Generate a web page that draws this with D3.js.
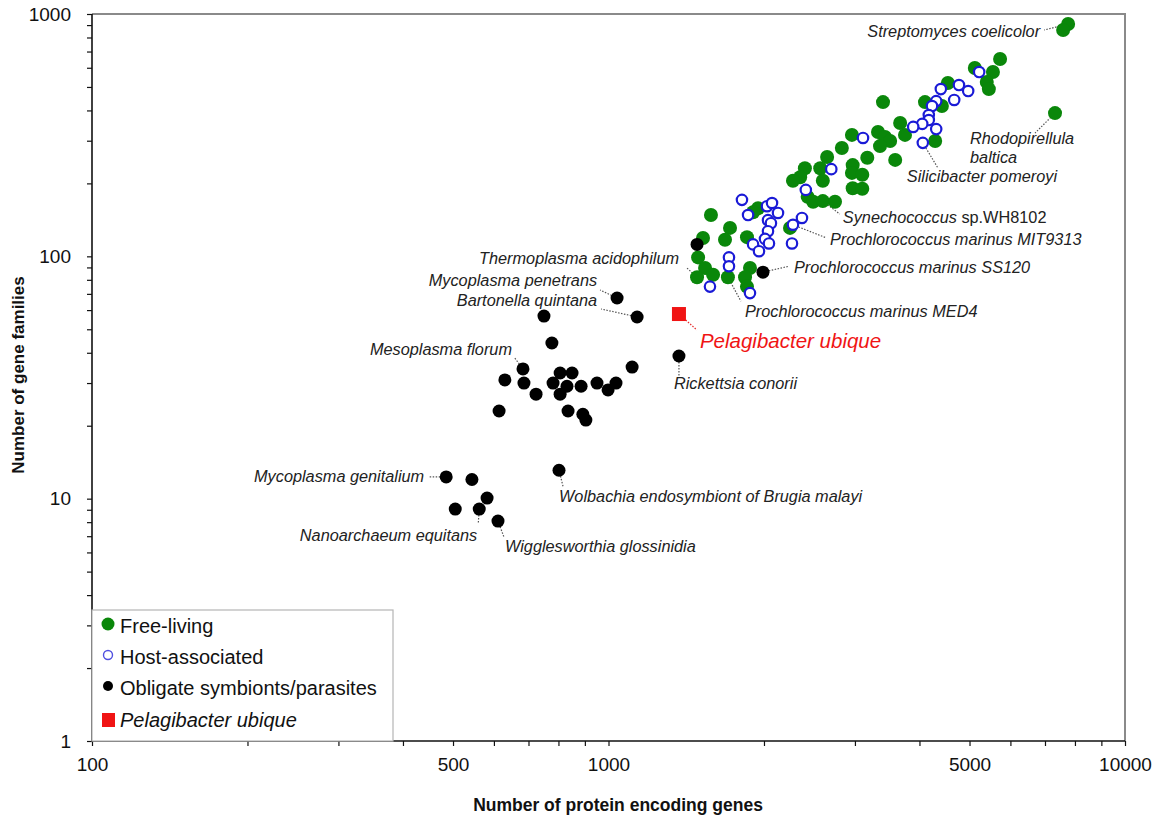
<!doctype html>
<meta charset="utf-8" />
<script src="https://cdn.jsdelivr.net/npm/d3@7/dist/d3.min.js"></script>
<style>
    body {
        margin: 0;
        background: white;
    }

    text {
        font-family: "Liberation Sans", Arial, sans-serif;
    }

    svg {
        display: block
    }
</style>
<svg id="chart"></svg>
<script>
    // [protein encoding genes, gene families]
    var freeLiving = [
        [7760, 909], [7590, 859], [5730, 652], [5550, 576], [5120, 599], [5400, 524], [5450, 490],
        [7320, 390], [4540, 519], [4100, 433], [4420, 417], [3670, 355], [3750, 317], [4290, 299],
        [3400, 433], [3325, 326], [3430, 311], [3510, 299], [3355, 285], [2960, 317], [2830, 280],
        [3170, 255], [3590, 250], [2650, 257], [2570, 231], [2400, 231], [2350, 212], [2600, 205],
        [2970, 238], [2960, 221], [3100, 217], [2970, 191], [3100, 190], [2430, 176], [2490, 168],
        [2600, 169], [2745, 168], [2276, 205], [2246, 131], [1948, 158], [1905, 152], [1579, 148],
        [1719, 131], [1681, 117], [1524, 119], [1854, 120], [1491, 99], [1538, 89.5], [1484, 82],
        [1594, 84], [1703, 82], [1879, 89.5], [1838, 82], [1854, 75]
    ];

    var hostAssociated = [
        [5220, 576], [4770, 509], [4970, 481], [4670, 442], [4400, 490], [4310, 437], [4230, 417],
        [4170, 383], [4170, 365], [4050, 352], [3890, 342], [4310, 335], [4060, 294], [3110, 308],
        [2700, 229], [2410, 188], [1813, 171], [1863, 148], [2027, 161], [2073, 166], [2129, 151],
        [2036, 141], [2063, 137], [2036, 127], [2009, 118], [2045, 113], [1905, 112], [1956, 105],
        [2276, 135], [2369, 144], [2266, 113], [1711, 99], [1711, 91], [1572, 75], [1879, 70.5]
    ];

    var obligate = [
        [1484, 112], [1991, 86], [1039, 67.3], [1136, 56.2], [750, 56.7], [777, 43.9], [683, 34.3],
        [630, 30.9], [686, 30.0], [724, 27.0], [806, 33.0], [850, 33.0], [781, 30.0], [831, 29.1],
        [806, 27.0], [885, 29.1], [950, 30.0], [998, 28.1], [1034, 30.0], [1111, 34.9], [614, 23.0],
        [835, 23.0], [892, 22.3], [904, 21.1], [1369, 38.8], [485, 12.3], [544, 12.0], [582, 10.06],
        [505, 9.06], [562, 9.06], [611, 8.08], [802, 13.1]
    ];

    var pelagibacter = [[1369, 57.8]];

    var xTicks = [100, 200, 300, 400, 500, 600, 700, 800, 900,
        1000, 2000, 3000, 4000, 5000, 6000, 7000, 8000, 9000, 10000];
    var xLabels = [100, 500, 1000, 5000, 10000];
    var yTicks = [1, 2, 3, 4, 5, 6, 7, 8, 9, 10, 20, 30, 40, 50, 60, 70, 80, 90,
        100, 200, 300, 400, 500, 600, 700, 800, 900, 1000];
    var yLabels = [1, 10, 100, 1000];

    // label: [text parts], point, text offset, anchor, leader end offset
    var notes = [
        { t: [['Streptomyces coelicolor', 1]], p: [7760, 909], dx: -28, dy: 13, a: 'end', lx: -24, ly: 6 },
        { t: [['Rhodopirellula', 1]], t2: 'baltica', p: [7320, 390], dx: -85, dy: 31, a: 'start', lx: -20, ly: 20 },
        { t: [['Silicibacter pomeroyi', 1]], p: [4060, 294], dx: -16, dy: 39, a: 'start', lx: 15, ly: 25 },
        { t: [['Synechococcus', 1], [' sp.WH8102', 0]], p: [2600, 169], dx: 20, dy: 22, a: 'start', lx: 17, ly: 13 },
        { t: [['Prochlorococcus marinus MIT9313', 1]], p: [2276, 135], dx: 37, dy: 20, a: 'start', lx: 33, ly: 13 },
        { t: [['Prochlorococcus marinus SS120', 1]], p: [1991, 86], dx: 31, dy: 1, a: 'start', lx: 26, ly: -6 },
        { t: [['Prochlorococcus marinus MED4', 1]], p: [1703, 82], dx: 17, dy: 40, a: 'start', lx: 13, ly: 24 },
        { t: [['Rickettsia conorii', 1]], p: [1369, 38.8], dx: -5, dy: 33, a: 'start', lx: 0, ly: 20 },
        { t: [['Thermoplasma acidophilum', 1]], p: [1484, 82], dx: -18, dy: -13, a: 'end', lx: -11, ly: -10 },
        { t: [['Mycoplasma penetrans', 1]], p: [1039, 67.3], dx: -20, dy: -12, a: 'end', lx: -17, ly: -8 },
        { t: [['Bartonella quintana', 1]], p: [1136, 56.2], dx: -40, dy: -11, a: 'end', lx: -36, ly: -8 },
        { t: [['Mesoplasma florum', 1]], p: [683, 34.3], dx: -11, dy: -14, a: 'end', lx: -9, ly: -12 },
        { t: [['Mycoplasma genitalium', 1]], p: [485, 12.3], dx: -22, dy: 5, a: 'end', lx: -18, ly: 0 },
        { t: [['Nanoarchaeum equitans', 1]], p: [562, 9.06], dx: -2, dy: 32, a: 'end', lx: -1, ly: 15 },
        { t: [['Wigglesworthia glossinidia', 1]], p: [611, 8.08], dx: 7, dy: 31, a: 'start', lx: 6, ly: 16 },
        { t: [['Wolbachia endosymbiont of Brugia malayi', 1]], p: [802, 13.1], dx: 0, dy: 32, a: 'start', lx: 4, ly: 16 }
    ];

    var W = 1161, H = 823;
    var svg = d3.select('svg#chart')
        .attr('width', W)
        .attr('height', H);

    var x = d3.scaleLog().domain([100, 10000]).range([92, 1125]);
    var y = d3.scaleLog().domain([1, 1000]).range([741, 14]);

    // frame (top / right)
    svg.append('path')
        .attr('d', 'M92,14H1125V741')
        .attr('fill', 'none')
        .attr('stroke', '#8a8a8a')
        .attr('stroke-width', 2);

    var xAxis = svg.append('g')
        .attr('transform', 'translate(0,741)')
        .call(d3.axisBottom(x)
            .tickValues(xTicks)
            .tickFormat(d => xLabels.includes(d) ? d : '')
            .tickSize(5)
            .tickPadding(12));

    var yAxis = svg.append('g')
        .attr('transform', 'translate(92,0)')
        .call(d3.axisLeft(y)
            .tickValues(yTicks)
            .tickFormat(d => yLabels.includes(d) ? d : '')
            .tickSize(5)
            .tickPadding(16));

    [xAxis, yAxis].forEach(function (g) {
        g.select('.domain').attr('stroke', '#111').attr('stroke-width', 1.6);
        g.selectAll('.tick line').attr('stroke', '#111').attr('stroke-width', 1.2);
        g.selectAll('.tick text')
            .attr('fill', '#111')
            .style('font-size', '19px')
            .style('font-family', '"Liberation Sans", Arial, sans-serif');
    });
    xAxis.select('.domain').attr('d', 'M92,0H1125');
    yAxis.select('.domain').attr('d', 'M0,14V741');

    svg.append('text')
        .attr('x', 618)
        .attr('y', 811)
        .attr('text-anchor', 'middle')
        .style('font-size', '17.5px')
        .style('font-weight', 'bold')
        .attr('fill', '#111')
        .text('Number of protein encoding genes');

    svg.append('text')
        .attr('transform', 'translate(24,375) rotate(-90)')
        .attr('text-anchor', 'middle')
        .style('font-size', '17px')
        .style('font-weight', 'bold')
        .attr('fill', '#111')
        .text('Number of gene families');

    // leaders
    var leaders = svg.append('g');
    notes.forEach(function (n) {
        var px = x(n.p[0]), py = y(n.p[1]);
        leaders.append('line')
            .attr('x1', px).attr('y1', py)
            .attr('x2', px + n.lx).attr('y2', py + n.ly)
            .attr('stroke', '#555')
            .attr('stroke-width', 1.2)
            .attr('stroke-dasharray', '1.5,1.5');
    });
    var pu = pelagibacter[0];
    leaders.append('line')
        .attr('x1', x(pu[0])).attr('y1', y(pu[1]))
        .attr('x2', x(pu[0]) + 18).attr('y2', y(pu[1]) + 16)
        .attr('stroke', '#e53030')
        .attr('stroke-width', 1.2)
        .attr('stroke-dasharray', '1.5,1.5');

    // points
    svg.append('g').selectAll('circle')
        .data(freeLiving)
        .enter()
        .append('circle')
        .attr('cx', d => x(d[0]))
        .attr('cy', d => y(d[1]))
        .attr('r', 7)
        .attr('fill', '#0a870a');

    svg.append('g').selectAll('circle')
        .data(hostAssociated)
        .enter()
        .append('circle')
        .attr('cx', d => x(d[0]))
        .attr('cy', d => y(d[1]))
        .attr('r', 5.2)
        .attr('fill', 'white')
        .attr('stroke', '#1a1ad6')
        .attr('stroke-width', 2.2);

    svg.append('g').selectAll('circle')
        .data(obligate)
        .enter()
        .append('circle')
        .attr('cx', d => x(d[0]))
        .attr('cy', d => y(d[1]))
        .attr('r', 6.5)
        .attr('fill', '#000');

    svg.append('g').selectAll('rect')
        .data(pelagibacter)
        .enter()
        .append('rect')
        .attr('x', d => x(d[0]) - 7)
        .attr('y', d => y(d[1]) - 7)
        .attr('width', 14)
        .attr('height', 14)
        .attr('fill', '#f01414');

    // labels
    var labels = svg.append('g');
    notes.forEach(function (n) {
        var px = x(n.p[0]), py = y(n.p[1]);
        var t = labels.append('text')
            .attr('x', px + n.dx)
            .attr('y', py + n.dy)
            .attr('text-anchor', n.a)
            .style('font-size', '16.3px')
            .attr('fill', '#222');
        n.t.forEach(function (s) {
            t.append('tspan')
                .style('font-style', s[1] ? 'italic' : 'normal')
                .text(s[0]);
        });
        if (n.t2) {
            labels.append('text')
                .attr('x', px + n.dx)
                .attr('y', py + n.dy + 19)
                .style('font-size', '16.3px')
                .style('font-style', 'italic')
                .attr('fill', '#222')
                .text(n.t2);
        }
    });
    labels.append('text')
        .attr('x', x(pu[0]) + 21)
        .attr('y', y(pu[1]) + 34)
        .style('font-size', '20.5px')
        .style('font-style', 'italic')
        .attr('fill', '#f01414')
        .text('Pelagibacter ubique');

    // legend
    var legend = svg.append('g');
    legend.append('rect')
        .attr('x', 92).attr('y', 610)
        .attr('width', 301).attr('height', 131)
        .attr('fill', 'white')
        .attr('stroke', '#b5b5b5')
        .attr('stroke-width', 1.2);
    var items = [
        { name: 'Free-living', y: 626, italic: false },
        { name: 'Host-associated', y: 657, italic: false },
        { name: 'Obligate symbionts/parasites', y: 688, italic: false },
        { name: 'Pelagibacter ubique', y: 720, italic: true }
    ];
    legend.append('circle').attr('cx', 108).attr('cy', items[0].y - 2).attr('r', 6.5).attr('fill', '#0a870a');
    legend.append('circle').attr('cx', 108).attr('cy', items[1].y - 2).attr('r', 4.5)
        .attr('fill', 'white').attr('stroke', '#5050e0').attr('stroke-width', 1.4);
    legend.append('circle').attr('cx', 108).attr('cy', items[2].y - 2).attr('r', 5).attr('fill', '#000');
    legend.append('rect').attr('x', 102).attr('y', items[3].y - 7).attr('width', 13).attr('height', 14).attr('fill', '#f01414');
    legend.selectAll('text.item')
        .data(items)
        .enter()
        .append('text')
        .attr('class', 'item')
        .attr('x', 120)
        .attr('y', d => d.y + 7)
        .style('font-size', '20px')
        .style('font-style', d => d.italic ? 'italic' : 'normal')
        .attr('fill', '#111')
        .text(d => d.name);
</script>
